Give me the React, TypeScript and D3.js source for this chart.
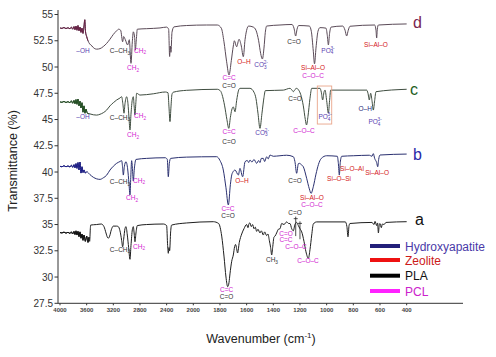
import React from "react";
import * as d3 from "d3";

// ---------- data ----------
const xTicks = [4000, 3600, 3200, 2800, 2400, 2000, 1800, 1600, 1400, 1200, 1000, 800, 600, 400];
const yTicks = [27.5, 30, 32.5, 35, 37.5, 40, 42.5, 45, 47.5, 50, 52.5, 55];

// spectrum d (top)
const specD: [number, number][] = [
  [4000, 53.72], [3970, 53.68], [3940, 53.76], [3910, 53.66], [3880, 53.74], [3850, 53.64], [3830, 53.8], [3810, 53.6],
  [3790, 53.85], [3775, 53.55], [3760, 53.9], [3745, 53.5], [3730, 53.95], [3715, 53.45], [3700, 53.8], [3685, 53.3],
  [3670, 53.7], [3655, 53.2], [3640, 53.9], [3628, 54.5], [3618, 53.4], [3600, 52.9], [3580, 52.5], [3555, 52.2],
  [3520, 52.0], [3500, 51.85], [3450, 51.7], [3400, 51.75], [3350, 51.95], [3300, 52.25], [3250, 52.65], [3200, 53.1],
  [3150, 53.45], [3120, 53.6], [3090, 53.5], [3060, 52.4], [3045, 52.9], [3020, 52.6], [2985, 52.1], [2960, 52.6],
  [2935, 50.35], [2915, 52.4], [2900, 53.35], [2880, 52.8], [2870, 51.6], [2855, 52.6], [2840, 53.6], [2700, 53.65],
  [2500, 53.72], [2400, 53.8], [2370, 53.6], [2355, 51.0], [2345, 52.0], [2335, 51.4], [2320, 53.3], [2290, 53.82],
  [2100, 53.95], [1900, 54.0], [1820, 54.0], [1790, 53.7], [1770, 52.4], [1750, 50.5], [1732, 49.24], [1715, 50.6],
  [1700, 52.0], [1692, 52.5], [1675, 51.93], [1657, 52.64], [1640, 52.0], [1625, 50.98], [1612, 52.6], [1600, 53.5],
  [1585, 53.9], [1550, 53.8], [1530, 53.5], [1510, 52.5], [1495, 51.3], [1482, 50.76], [1470, 51.8], [1460, 53.3],
  [1450, 53.9], [1350, 54.0], [1260, 54.05], [1245, 53.7], [1232, 52.95], [1222, 53.6], [1210, 53.95], [1130, 53.9],
  [1115, 53.4], [1100, 51.5], [1091, 50.3], [1080, 51.8], [1065, 53.4], [1050, 53.75], [1005, 53.7], [995, 53.0],
  [987, 52.1], [978, 53.2], [967, 53.8], [880, 53.9], [862, 53.5], [850, 52.95], [838, 53.5], [825, 53.88],
  [640, 54.0], [630, 53.5], [625, 52.76], [620, 53.6], [612, 54.0], [400, 54.1],
];

// spectrum c
const specC: [number, number][] = [
  [4000, 46.68], [3970, 46.64], [3940, 46.72], [3910, 46.62], [3880, 46.7], [3850, 46.6], [3830, 46.78], [3810, 46.55],
  [3790, 46.82], [3775, 46.5], [3760, 46.9], [3745, 46.45], [3730, 46.95], [3715, 46.3], [3700, 46.75], [3685, 46.1],
  [3670, 46.6], [3655, 45.7], [3640, 46.3], [3625, 45.6], [3610, 46.0], [3590, 45.6], [3560, 45.55],
  [3500, 45.45], [3450, 45.42], [3400, 45.5], [3350, 45.65], [3300, 45.9], [3250, 46.3], [3200, 46.6], [3150, 46.86],
  [3100, 47.05], [3075, 47.17], [3055, 46.4], [3040, 45.6], [3025, 46.5], [3000, 47.17], [2980, 46.5], [2965, 45.2],
  [2950, 44.0], [2935, 45.5], [2915, 46.9], [2900, 47.17], [2888, 46.3], [2875, 45.43], [2862, 46.6], [2850, 47.5],
  [2800, 47.33], [2600, 47.45], [2420, 47.62], [2380, 47.55], [2365, 46.2], [2350, 44.8], [2335, 46.2], [2320, 47.4],
  [2300, 47.6], [2100, 47.78], [1820, 47.88], [1795, 47.7], [1785, 47.4], [1765, 46.3], [1748, 45.0], [1734, 44.16],
  [1722, 45.2], [1712, 45.9], [1700, 46.2], [1687, 45.74], [1675, 46.8], [1660, 47.8], [1650, 47.97], [1575, 47.97],
  [1545, 47.6], [1530, 47.0], [1515, 45.6], [1500, 44.16], [1485, 45.6], [1470, 47.1], [1460, 47.75], [1325, 47.8],
  [1275, 47.97], [1260, 47.8], [1250, 47.65], [1238, 47.85], [1225, 47.97], [1210, 47.8], [1195, 47.4], [1175, 46.3],
  [1160, 45.0], [1151, 44.48], [1140, 45.3], [1125, 47.0], [1112, 47.97], [1050, 47.97], [1040, 47.6], [1030, 46.86],
  [1020, 47.6], [1012, 47.8], [1000, 46.8], [987, 45.6], [978, 46.8], [970, 47.8], [700, 47.8], [690, 47.5],
  [680, 46.86], [670, 47.5], [660, 46.8], [650, 45.9], [640, 46.8], [630, 47.65], [400, 47.88],
];

// spectrum b
const specB: [number, number][] = [
  [4000, 40.55], [3970, 40.5], [3940, 40.6], [3910, 40.5], [3880, 40.58], [3850, 40.48], [3830, 40.65], [3810, 40.45],
  [3790, 40.7], [3775, 40.4], [3760, 40.8], [3745, 40.35], [3730, 40.9], [3715, 40.2], [3700, 40.95], [3685, 39.9],
  [3670, 40.5], [3655, 39.95], [3640, 40.2], [3620, 39.9], [3600, 40.03], [3550, 39.75],
  [3500, 39.5], [3450, 39.35], [3400, 39.3], [3350, 39.45], [3300, 39.7], [3250, 40.19], [3200, 40.55], [3150, 40.83],
  [3100, 41.0], [3075, 41.08], [3060, 40.4], [3050, 39.71], [3035, 40.5], [3010, 40.98], [2985, 40.3], [2965, 38.9],
  [2950, 37.81], [2938, 39.5], [2925, 41.08], [2912, 40.2], [2900, 39.14], [2885, 40.3], [2860, 41.2], [2700, 41.3],
  [2420, 41.36], [2390, 41.2], [2375, 39.55], [2360, 40.8], [2340, 41.3], [2100, 41.42], [1825, 41.46], [1800, 41.1],
  [1775, 40.19], [1755, 38.5], [1737, 36.86], [1722, 38.8], [1712, 39.71], [1705, 39.95], [1687, 40.19], [1662, 39.71],
  [1650, 40.35], [1630, 39.55], [1612, 40.98], [1595, 41.1], [1585, 40.9], [1575, 41.14], [1560, 40.95], [1545, 41.2],
  [1525, 40.83], [1510, 41.1], [1500, 40.9], [1490, 41.3], [1475, 41.3], [1465, 41.0], [1450, 41.45], [1438, 41.25],
  [1425, 41.62], [1400, 41.5], [1350, 41.55], [1300, 41.6], [1250, 41.46], [1238, 41.0], [1225, 39.88], [1212, 40.8],
  [1205, 40.83], [1190, 40.7], [1175, 40.5], [1150, 39.4], [1130, 38.4], [1117, 37.97], [1100, 38.6], [1080, 39.8],
  [1062, 40.7], [1040, 41.3], [1000, 41.55], [920, 41.5], [912, 40.8], [905, 39.71], [898, 40.9], [887, 41.5],
  [800, 41.55], [680, 41.6], [660, 41.5], [650, 41.75], [640, 41.3], [625, 40.9], [617, 40.5], [610, 41.2],
  [600, 41.62], [400, 41.71],
];

// spectrum a (bottom)
const specA: [number, number][] = [
  [4000, 34.24], [3970, 34.2], [3940, 34.28], [3910, 34.18], [3880, 34.26], [3850, 34.15], [3830, 34.3], [3810, 34.1],
  [3790, 34.35], [3775, 34.05], [3760, 34.4], [3745, 34.0], [3730, 34.35], [3715, 33.85], [3700, 34.3], [3685, 33.7],
  [3670, 34.1], [3655, 33.5], [3640, 34.0], [3620, 33.4], [3600, 33.9], [3580, 33.3], [3565, 33.8], [3555, 33.4],
  [3545, 34.6], [3540, 34.95], [3450, 35.0], [3380, 35.05], [3340, 34.8], [3310, 34.2],
  [3290, 33.8], [3275, 33.7], [3255, 33.9], [3230, 34.5], [3200, 34.85], [3150, 34.85], [3125, 34.8], [3100, 34.4],
  [3075, 33.5], [3060, 32.88], [3045, 33.6], [3025, 34.6], [3010, 34.8], [2990, 34.0], [2970, 32.8], [2950, 31.69],
  [2935, 33.0], [2915, 34.5], [2900, 34.8], [2888, 34.2], [2875, 33.36], [2860, 34.2], [2840, 34.9], [2700, 35.0],
  [2450, 35.05], [2400, 34.9], [2385, 33.0], [2375, 32.26], [2365, 32.8], [2355, 32.5], [2340, 34.3], [2325, 34.95],
  [2100, 35.15], [1850, 35.27], [1810, 35.1], [1787, 33.9], [1770, 32.0], [1755, 30.0], [1742, 29.08], [1732, 29.5],
  [1725, 30.3], [1712, 31.5], [1700, 32.1], [1690, 32.9], [1683, 33.1], [1675, 32.7], [1668, 32.29], [1655, 33.3],
  [1637, 34.1], [1620, 34.6], [1600, 35.0], [1590, 34.7], [1582, 35.1], [1575, 35.15], [1565, 34.8], [1555, 35.0],
  [1545, 34.6], [1535, 34.75], [1525, 34.35], [1515, 34.55], [1500, 34.2], [1490, 34.4], [1475, 34.0], [1465, 34.3],
  [1450, 33.95], [1440, 34.1], [1430, 33.5], [1420, 32.8], [1412, 32.1], [1405, 32.8], [1395, 33.8], [1387, 33.9],
  [1375, 34.2], [1362, 34.55], [1350, 34.6], [1337, 35.1], [1320, 35.0], [1300, 35.25], [1285, 35.1], [1275, 35.1],
  [1262, 34.6], [1250, 34.4], [1238, 35.0], [1225, 35.2], [1212, 34.9], [1200, 34.6], [1187, 34.3], [1170, 33.4],
  [1155, 32.4], [1137, 31.78], [1125, 32.6], [1112, 34.0], [1100, 35.05], [1075, 35.25], [860, 35.25], [848, 34.8],
  [840, 33.83], [832, 34.9], [825, 35.1], [660, 35.2], [645, 35.0], [637, 35.3], [625, 34.9], [618, 35.15],
  [612, 34.2], [605, 35.0], [600, 35.1], [590, 34.7], [582, 35.05], [570, 35.0], [555, 35.2], [400, 35.27],
];

const seriesNames = ["d", "c", "b", "a"];
const seriesLabelPos: [number, number][] = [[352, 53.71], [375, 47.33], [352, 41.14], [337, 34.95]];

const legendNames = ["Hydroxyapatite", "Zeolite", "PLA", "PCL"];

// annotations: [text, wavenumber, transmittance, group]
type Ann = [string, number, number, string];
const annD: Ann[] = [
  ["–OH", 3655, 51.33, "hap"], ["C–CH_3", 3100, 51.33, "pla"], ["CH_2", 2800, 51.38, "pcl"], ["CH_2", 2905, 49.67, "pcl"],
  ["C=C", 1732, 48.76, "pcl"], ["C=O", 1732, 48.0, "pla"], ["O–H", 1620, 50.33, "zeo"], ["CO_3^2-", 1492, 50.0, "hap"],
  ["C=O", 1245, 52.19, "pla"], ["Si–Al–O", 1102, 49.67, "zeo"], ["C–O–C", 1102, 49.0, "pcl"], ["PO_4^3-", 990, 51.38, "hap"],
  ["Si–Al–O", 630, 51.86, "zeo"],
];
const annC: Ann[] = [
  ["–OH", 3655, 45.05, "hap"], ["C–CH_3", 3100, 45.0, "pla"], ["CH_2", 2800, 45.1, "pcl"], ["CH_2", 2905, 43.29, "pcl"],
  ["C=C", 1732, 43.62, "pcl"], ["C=O", 1732, 42.67, "pla"], ["CO_3^2-", 1484, 43.57, "hap"], ["C=O", 1237, 46.76, "pla"],
  ["C–O–C", 1170, 43.76, "pcl"], ["PO_4^3-", 1012, 45.05, "hap"], ["O–H", 711, 45.81, "hapd"], ["PO_4^3-", 637, 44.57, "hap"],
];
const annB: Ann[] = [
  ["C–CH_3", 3100, 38.86, "pla"], ["CH_2", 2815, 39.0, "pcl"], ["CH_2", 2920, 37.29, "pcl"], ["C=C", 1740, 36.33, "pcl"],
  ["C=O", 1740, 35.62, "pla"], ["O–H", 1635, 39.0, "zeo"], ["C=O", 1237, 39.0, "pla"], ["Si–Al–O", 1110, 37.29, "zeo"],
  ["C–O–C", 1110, 36.67, "pcl"], ["Si–O–Si", 907, 39.14, "zeo"], ["Si–O–Al", 810, 40.1, "zeo"], ["Si–Al–O", 622, 39.71, "zeo"],
];
const annA: Ann[] = [
  ["C–CH_3", 3100, 32.43, "pla"], ["CH_2", 2815, 32.71, "pcl"], ["C=C", 1750, 28.62, "pcl"], ["C=O", 1750, 27.9, "pla"],
  ["CH_3", 1410, 31.43, "pla"], ["C=O", 1237, 35.9, "pla"], ["C=O", 1305, 33.95, "pcl"], ["C=C", 1305, 33.29, "pcl"],
  ["C–O–C", 1230, 32.67, "pcl"], ["C–O–C", 1140, 31.33, "pcl"],
];
// box around PO4 in c: [w1, w2, T1, T2]
const boxC = [1070, 962, 48.19, 44.57];
// arrows in a: [w, T1, T2]
const arrowsA: [number, number, number][] = [[1232, 35.75, 33.9], [1200, 35.3, 33.6]];

// ---------- styling ----------
const W = 496, H = 357;
const groupColor: Record<string, string> = {
  hap: "#5a3fb0", hapd: "#2a2a7a", zeo: "#d42020", pla: "#333333", pcl: "#d21ed2",
};
const curveColors = ["#5a4a57", "#3f4d40", "#2a3070", "#1e1e1e"];
const noiseColors = ["#6a1d44", "#1f4f1f", "#1c1c8a", "#111111"];
const nameColors = ["#7a2550", "#1d5e1d", "#2a2aa8", "#111111"];
const legendLineColors = ["#22207a", "#ee1111", "#000000", "#ff22ff"];
const legendTextColors = ["#4a3aa8", "#cc1a1a", "#111111", "#cc22cc"];
const FONT = "Liberation Sans, Arial, sans-serif";

function parseLabel(s: string) {
  const parts: { t: string; k: "n" | "sub" | "sup" }[] = [];
  const re = /([^_^]+)|_([^_^]+)|\^([^_^]+)/g;
  let m: RegExpExecArray | null;
  while ((m = re.exec(s))) {
    if (m[1]) parts.push({ t: m[1], k: "n" });
    else if (m[2]) parts.push({ t: m[2], k: "sub" });
    else if (m[3]) parts.push({ t: m[3], k: "sup" });
  }
  return parts;
}

function Label({ x, y, text, color, size }: { x: number; y: number; text: string; color: string; size: number }) {
  const parts = parseLabel(text);
  let cur = 0;
  let prev = "n";
  return (
    <text x={x} y={y} textAnchor="middle" fontSize={size} fill={color} fontFamily={FONT}>
      {parts.map((p, i) => {
        const target = p.k === "sub" ? 1.8 : p.k === "sup" ? -2.8 : 0;
        const dy = target - cur;
        cur = target;
        const dx = p.k === "sup" && prev === "sub" ? -2.8 : 0;
        prev = p.k;
        return (
          <tspan key={i} dy={dy} dx={dx} fontSize={p.k === "n" ? size : size * 0.72}>
            {p.t}
          </tspan>
        );
      })}
    </text>
  );
}

export default function App() {
  const x = d3.scaleLinear().domain([4000, 2000, 0]).range([60, 193.3, 460]);
  const y = d3.scaleLinear().domain([27.5, 55]).range([303.3, 14.5]);
  const line = d3
    .line<[number, number]>()
    .x((d) => x(d[0]))
    .y((d) => y(d[1]))
    .curve(d3.curveMonotoneX);
  const specs = [specD, specC, specB, specA];
  const anns = [annD, annC, annB, annA];
  const axisY = y(27.5);
  const legendY = [246, 260, 275.7, 291];

  return (
    <svg width={W} height={H} style={{ position: "absolute", left: 0, top: 0, background: "#fff" }}>
      <rect width={W} height={H} fill="#fff" />
      {/* axes */}
      <line x1={58} x2={58} y1={10} y2={axisY} stroke="#333" strokeWidth={1} />
      <line x1={58} x2={463} y1={axisY} y2={axisY} stroke="#333" strokeWidth={1} />
      {yTicks.map((t) => (
        <g key={t}>
          <line x1={54.5} x2={58} y1={y(t)} y2={y(t)} stroke="#333" />
          <text x={53} y={y(t) + 3.5} textAnchor="end" fontSize={10} fill="#333" fontFamily={FONT}>
            {t}
          </text>
        </g>
      ))}
      {xTicks.map((t) => (
        <g key={t}>
          <line x1={x(t)} x2={x(t)} y1={axisY} y2={axisY + 2} stroke="#333" />
          <text x={x(t)} y={axisY + 8.5} textAnchor="middle" fontSize={6} fontWeight="bold" fill="#444" fontFamily={FONT}>
            {t}
          </text>
        </g>
      ))}
      <text
        transform={`translate(17,${161}) rotate(-90)`}
        textAnchor="middle"
        fontSize={12.5}
        fill="#222"
        fontFamily={FONT}
      >
        Transmittance (%)
      </text>
      <text x={261} y={343} textAnchor="middle" fontSize={12.5} fill="#222" fontFamily={FONT}>
        Wavenumber (cm
        <tspan dy={-5} fontSize={8}>-1</tspan>
        <tspan dy={5}>)</tspan>
      </text>

      {/* spectra */}
      {specs.map((s, i) => (
        <g key={i}>
          <path d={line(s) || ""} fill="none" stroke={curveColors[i]} strokeWidth={1} />
          <path d={line(s.filter((p) => p[0] >= 3560)) || ""} fill="none" stroke={noiseColors[i]} strokeWidth={1} />
          <text
            x={x(seriesLabelPos[i][0])}
            y={y(seriesLabelPos[i][1])}
            fontSize={16}
            fill={nameColors[i]}
            fontFamily={FONT}
          >
            {seriesNames[i]}
          </text>
        </g>
      ))}

      {/* box and arrows */}
      <rect
        x={x(boxC[0])}
        y={y(boxC[2])}
        width={x(boxC[1]) - x(boxC[0])}
        height={y(boxC[3]) - y(boxC[2])}
        fill="none"
        stroke="#e9a58a"
        strokeWidth={0.9}
      />
      {arrowsA.map((a, i) => (
        <g key={i}>
          <line x1={x(a[0])} x2={x(a[0])} y1={y(a[1])} y2={y(a[2])} stroke="#222" strokeWidth={0.8} />
          <line x1={x(a[0]) - 2} x2={x(a[0]) + 2} y1={y(a[1]) + 2} y2={y(a[1]) + 2} stroke="#222" strokeWidth={0.8} />
        </g>
      ))}

      {/* annotations */}
      {anns.map((list, i) =>
        list.map((a, j) => (
          <Label key={`${i}-${j}`} x={x(a[1])} y={y(a[2])} text={a[0]} color={groupColor[a[3]]} size={6.5} />
        ))
      )}

      {/* legend */}
      {legendNames.map((n, i) => (
        <g key={n}>
          <line x1={370} x2={400} y1={legendY[i]} y2={legendY[i]} stroke={legendLineColors[i]} strokeWidth={4} />
          <text x={405} y={legendY[i] + 4.5} fontSize={12} fill={legendTextColors[i]} fontFamily={FONT}>
            {n}
          </text>
        </g>
      ))}
    </svg>
  );
}
